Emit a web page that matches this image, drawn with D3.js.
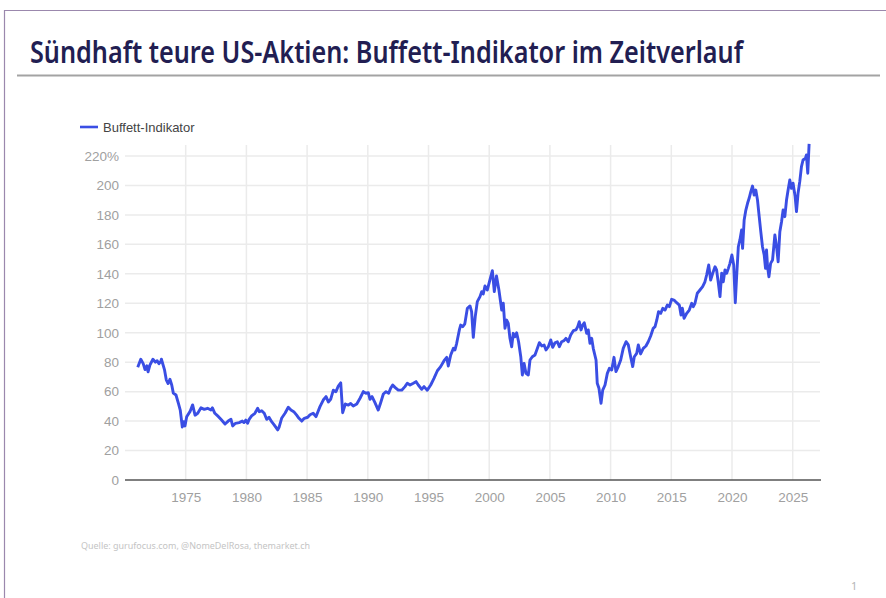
<!DOCTYPE html>
<html>
<head>
<meta charset="utf-8">
<script src="https://cdn.jsdelivr.net/npm/d3@7"></script>
<style>
  html, body { margin: 0; padding: 0; background: #fff; }
  svg { display: block; }
</style>
</head>
<body>
<div id="chart"></div>
<script>
// data (decimal year, Buffett-Indikator in %)
var dates = [
  1971.05,1971.3,1971.5,1971.65,1971.8,1971.9,1972.05,1972.3,1972.5,1972.65,1972.8,1972.95,1973.0,
  1973.25,1973.4,1973.55,1973.7,1973.85,1973.98,1974.2,1974.4,1974.55,1974.72,1974.83,1974.94,
  1975.08,1975.35,1975.57,1975.77,1975.99,1976.26,1976.53,1976.8,1977.08,1977.2,1977.4,1977.7,1977.9,
  1978.24,1978.5,1978.73,1978.87,1979.1,1979.4,1979.66,1979.8,1979.95,1980.1,1980.24,1980.43,1980.7,
  1980.93,1981.06,1981.26,1981.47,1981.67,1981.86,1982.08,1982.3,1982.58,1982.69,1982.9,1983.18,
  1983.45,1983.67,1983.9,1984.14,1984.33,1984.56,1984.77,1985.05,1985.24,1985.5,1985.73,
  1986.06,1986.33,1986.56,1986.75,1986.94,1987.16,1987.38,1987.57,1987.77,1987.93,1988.15,1988.4,
  1988.59,1988.8,1989.09,1989.36,1989.63,1989.85,1990.04,1990.18,1990.35,1990.59,1990.86,1991.06,
  1991.28,1991.5,1991.72,1991.88,1992.05,1992.24,1992.51,1992.79,1993.06,1993.25,1993.48,1993.75,
  1993.97,1994.16,1994.44,1994.63,1994.9,1995.18,1995.45,1995.73,1996.0,1996.28,1996.5,1996.63,
  1996.83,1997.05,1997.18,1997.32,1997.54,1997.65,1997.82,1997.99,1998.2,1998.42,1998.55,1998.69,
  1998.85,1999.02,1999.24,1999.38,1999.51,1999.65,1999.84,2000.07,2000.26,2000.42,2000.6,2000.8,
  2001.03,2001.16,2001.3,2001.44,2001.57,2001.71,2001.85,2001.98,2002.12,2002.26,2002.42,2002.6,
  2002.73,2002.87,2003.03,2003.22,2003.36,2003.55,2003.77,2003.97,2004.13,2004.33,2004.52,2004.68,
  2004.87,2005.07,2005.23,2005.42,2005.61,2005.78,2005.97,2006.16,2006.32,2006.51,2006.71,2006.93,
  2007.15,2007.29,2007.42,2007.56,2007.7,2007.83,2008.03,2008.16,2008.3,2008.44,2008.57,2008.8,
  2008.9,2009.04,2009.21,2009.35,2009.54,2009.73,2009.9,2010.09,2010.28,2010.44,2010.63,2010.83,
  2011.04,2011.27,2011.46,2011.65,2011.82,2011.95,2012.15,2012.28,2012.47,2012.69,2012.91,2013.1,
  2013.3,2013.51,2013.66,2013.8,2013.95,2014.13,2014.3,2014.48,2014.67,2014.84,2015.03,2015.22,
  2015.44,2015.66,2015.8,2015.91,2016.05,2016.27,2016.48,2016.68,2016.81,2016.95,2017.14,2017.36,
  2017.58,2017.77,2017.91,2018.08,2018.24,2018.41,2018.6,2018.73,2018.87,2019.01,2019.15,2019.28,
  2019.42,2019.56,2019.7,2019.83,2019.99,2020.14,2020.27,2020.38,2020.52,2020.65,2020.79,2020.87,
  2021.0,2021.14,2021.28,2021.41,2021.55,2021.69,2021.82,2021.96,2022.1,2022.24,2022.37,2022.51,
  2022.65,2022.76,2022.84,2022.93,2023.04,2023.18,2023.34,2023.53,2023.67,2023.8,2023.94,2024.08,
  2024.21,2024.35,2024.49,2024.62,2024.76,2024.9,2025.03,2025.2,2025.31,2025.44,2025.58,2025.72,
  2025.85,2026.05,2026.13,2026.24,2026.35
];
var values = [
  76.5,82,79,75,77.5,73.5,78,82,80,81,79,80.5,82,
  75,68,65.5,68.4,64.5,59,57.7,52,47.5,36,39.6,36.7,
  43,46.4,51,44,45.3,49,48,48.7,47.5,49,45.3,43,41.2,
  38,40,41.2,36.7,38.5,39,40,39,40.7,38.5,41.4,43.5,45.3,
  48.7,46.4,47,45.3,41.2,42.6,39.6,37.3,34,35.8,41.9,45.3,
  49.4,47.5,46.4,44,41.9,40,41.9,42.6,44.3,45.3,43,
  49.8,54.3,56.6,53,54.8,61,60,63.8,66,45.7,51.6,50.9,
  52,50.2,51.6,55.5,60,58.9,59.3,54.8,56.6,52.5,47.5,52.5,
  58.4,60,58.9,62.3,64.5,62.9,61,61,63.4,65.7,64.5,65.7,
  66.8,64.5,61.6,63.4,61,64.5,69,74.2,77,81,83.3,77.4,
  84.9,89.4,88.3,92.8,101.9,105.2,104.1,106,116.6,118.2,114.3,96.9,
  110.9,121.1,124.5,127.9,126.3,131.7,129,136.3,142.1,128,138.5,129,
  115.4,120,103,108.6,106.4,96.2,90.5,99.6,97.3,100,93.9,83.7,
  71.3,79.2,72.4,71.3,81.5,83.7,84.9,89.4,93.2,91,91.7,88.3,
  90.5,95.1,90.1,93.2,93.9,90.5,93.9,94.6,96.2,93.9,98.5,101.4,
  101.9,104.1,107.5,101.9,105.2,106.8,99.6,101.9,92.8,96.2,89.4,81.5,
  65.7,62.3,52.1,61,64.5,72.4,75.8,74.7,83.3,73.6,77,81.5,
  89.4,93.9,91.7,83.7,77,83.7,86,91.7,85.6,89.4,91,93.9,
  97.8,103,104.1,108.5,114.3,113.2,116.6,115.4,118.8,117.7,122.7,122.2,
  120.4,118.8,112,116.6,109.8,113.2,115.4,120,117.7,120,126.8,129,
  131.3,134.6,139.2,146,135.8,140.4,144.8,142.6,134,124.5,140.4,134.6,
  142.6,140.4,143.7,147.1,152.8,146,120.4,138,158.4,163,169.8,157.3,
  176.5,183.3,187.9,191.3,195.8,199.6,193.5,196.9,190.1,178.8,168.6,158.4,
  152.8,143.7,156.2,144.8,138,147.1,149.4,166.4,158.4,148.2,168.6,175.4,
  183.3,178.8,190.1,196.9,203.7,198,201.5,192.4,182.2,194.7,202.6,212.8,
  217.3,218.5,220.7,208.3,228.2
];
var seriesName = "Buffett-Indikator";
var tickYears = [1975,1980,1985,1990,1995,2000,2005,2010,2015,2020,2025];
var tickValues = [0,20,40,60,80,100,120,140,160,180,200,220];

var W = 886, H = 598;
var plotLeft = 125, plotRight = 821, plotTop = 156, plotBottom = 480;

var svg = d3.select('#chart').append('svg')
  .attr('width', W)
  .attr('height', H);

// slide frame
svg.append('path')
  .attr('d', 'M4.5,' + H + 'V10.5H' + W)
  .attr('fill', 'none')
  .attr('stroke', '#9b88ad')
  .attr('stroke-width', 1.2);

svg.append('text')
  .attr('x', 30)
  .attr('y', 63)
  .attr('font-family', '"Noto Sans", sans-serif')
  .attr('font-weight', 600)
  .attr('font-size', 30)
  .attr('fill', '#221e52')
  .attr('textLength', 713)
  .attr('lengthAdjust', 'spacingAndGlyphs')
  .text('Sündhaft teure US-Aktien: Buffett-Indikator im Zeitverlauf');

svg.append('line')
  .attr('x1', 17).attr('x2', 880)
  .attr('y1', 75.5).attr('y2', 75.5)
  .attr('stroke', '#a3a3a3')
  .attr('stroke-width', 2);

var x = d3.scaleLinear().domain([1970, 2027.33]).range([plotLeft, plotRight]);
var y = d3.scaleLinear().domain([0, 220]).range([plotBottom, plotTop]);

// grid
svg.append('g').selectAll('line').data(tickValues.slice(1))
  .enter().append('line')
  .attr('x1', plotLeft).attr('x2', plotRight - 1)
  .attr('y1', function(d) { return y(d); })
  .attr('y2', function(d) { return y(d); })
  .attr('stroke', '#ebebeb')
  .attr('stroke-width', 1.5);

svg.append('g').selectAll('line').data(tickYears)
  .enter().append('line')
  .attr('x1', function(d) { return x(d); })
  .attr('x2', function(d) { return x(d); })
  .attr('y1', 145).attr('y2', plotBottom)
  .attr('stroke', '#ebebeb')
  .attr('stroke-width', 1.5);

// axes
var xAxis = d3.axisBottom(x).tickValues(tickYears).tickFormat(d3.format('d')).tickSize(0).tickPadding(12);
var gx = svg.append('g').attr('transform', 'translate(0,' + plotBottom + ')').call(xAxis);
gx.select('.domain').remove();

var yAxis = d3.axisLeft(y).tickValues(tickValues)
  .tickFormat(function(d) { return d === 220 ? d + '%' : d; })
  .tickSize(0).tickPadding(6);
var gy = svg.append('g').attr('transform', 'translate(' + plotLeft + ',0)').call(yAxis);
gy.select('.domain').remove();

svg.selectAll('.tick text')
  .attr('font-family', '"Liberation Sans", Arial, sans-serif')
  .attr('font-size', 13.5)
  .attr('fill', '#a0a0a0');

svg.append('line')
  .attr('x1', plotLeft).attr('x2', plotRight)
  .attr('y1', plotBottom).attr('y2', plotBottom)
  .attr('stroke', '#555')
  .attr('stroke-width', 1.5);

// series
var points = dates.map(function(d, i) { return [d, values[i]]; });
var lineGen = d3.line()
  .x(function(d) { return x(d[0]); })
  .y(function(d) { return y(d[1]); });

svg.append('path')
  .datum(points)
  .attr('d', lineGen)
  .attr('fill', 'none')
  .attr('stroke', '#3a4ee4')
  .attr('stroke-width', 2.9)
  .attr('stroke-linejoin', 'round');

// legend
svg.append('line')
  .attr('x1', 80).attr('x2', 98)
  .attr('y1', 127).attr('y2', 127)
  .attr('stroke', '#3a4ee4')
  .attr('stroke-width', 2.6);
svg.append('text')
  .attr('x', 103).attr('y', 131.5)
  .attr('font-family', '"Liberation Sans", Arial, sans-serif')
  .attr('font-size', 13)
  .attr('fill', '#444')
  .text(seriesName);

// footer
svg.append('text')
  .attr('x', 81).attr('y', 549)
  .attr('font-family', '"Noto Sans", sans-serif')
  .attr('font-size', 9.5)
  .attr('fill', '#c4c4c4')
  .attr('textLength', 229)
  .attr('lengthAdjust', 'spacingAndGlyphs')
  .text('Quelle: gurufocus.com, @NomeDelRosa, themarket.ch');

svg.append('text')
  .attr('x', 851).attr('y', 590)
  .attr('font-family', '"Noto Sans", sans-serif')
  .attr('font-size', 11)
  .attr('fill', '#b5b5b5')
  .text('1');
</script>
</body>
</html>
